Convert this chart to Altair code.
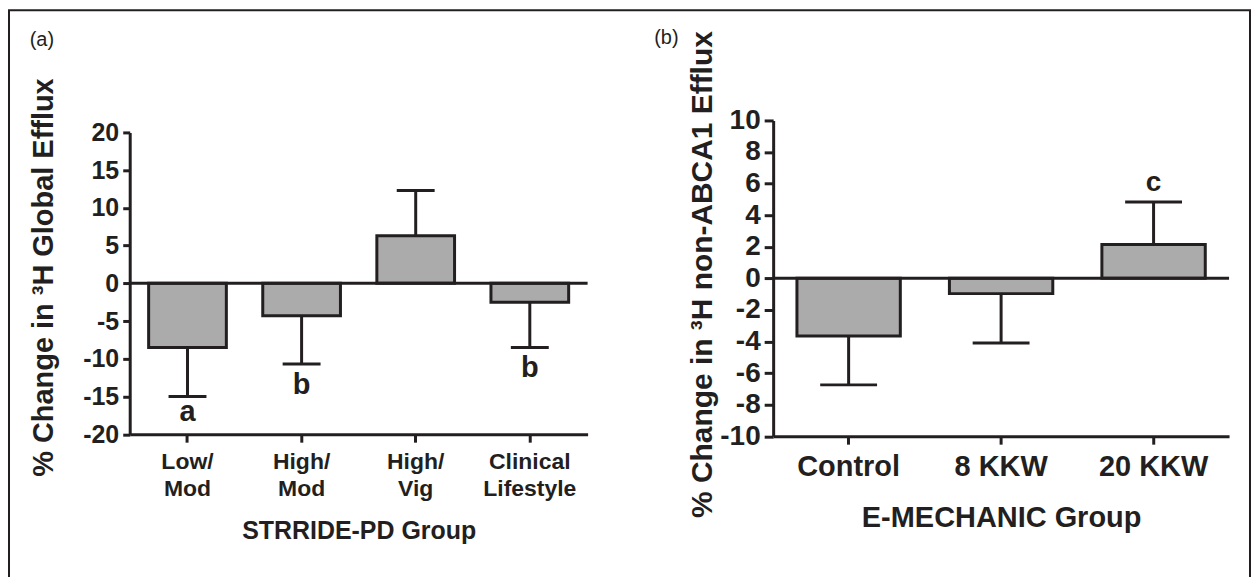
import altair as alt
import pandas as pd

# ---------------- data ----------------
groups_a = ["Low/ Mod", "High/ Mod", "High/ Vig", "Clinical Lifestyle"]
means_a = [-8.5, -4.3, 6.3, -2.5]
err_a = [-15.0, -10.7, 12.3, -8.5]
letters_a = ["a", "b", "", "b"]
letter_pos_a = [-18.3, -14.7, 0.0, -12.4]
ticks_a = [-20, -15, -10, -5, 0, 5, 10, 15, 20]

groups_b = ["Control", "8 KKW", "20 KKW"]
means_b = [-3.65, -0.97, 2.14]
err_b = [-6.75, -4.1, 4.84]
letters_b = ["", "", "c"]
letter_pos_b = [0.0, 0.0, 5.5]
ticks_b = [-10, -8, -6, -4, -2, 0, 2, 4, 6, 8, 10]

FONT = "Liberation Sans"
INK = "#231f20"
FILL = "#ababab"

df_a = pd.DataFrame({"group": groups_a, "mean": means_a, "err": err_a,
                     "letter": letters_a, "ly": letter_pos_a})
df_b = pd.DataFrame({"group": groups_b, "mean": means_b, "err": err_b,
                     "letter": letters_b, "ly": letter_pos_b})
one = pd.DataFrame({"zero": [0]})


def make_panel(df, groups, ydomain, yrange, width, height, pin, pout,
               cap, xaxis, yaxis, letter_size, tag, tag_x, tag_y, border=False):
    xscale = alt.Scale(paddingInner=pin, paddingOuter=pout)
    yscale = alt.Scale(domain=ydomain, range=yrange, nice=False, zero=False)

    def X():
        return alt.X("group:N", sort=groups, scale=xscale, axis=xaxis)

    def Y(field):
        return alt.Y(field, scale=yscale, axis=yaxis)

    bars = alt.Chart(df).mark_bar(fill=FILL, stroke=INK, strokeWidth=3).encode(
        x=X(), y=Y("mean:Q"))
    stems = alt.Chart(df).mark_rule(color=INK, strokeWidth=3).encode(
        x=X(), y=Y("mean:Q"), y2=alt.Y2("err"))
    caps = alt.Chart(df).mark_tick(color=INK, orient="horizontal", size=cap,
                                   thickness=3, opacity=1).encode(
        x=X(), y=Y("err:Q"))
    zero = alt.Chart(one).mark_rule(color=INK, strokeWidth=3).encode(y=Y("zero:Q"))
    lets = alt.Chart(df[df["letter"] != ""]).mark_text(
        font=FONT, fontSize=letter_size, fontWeight="bold", color=INK,
        baseline="alphabetic", align="center").encode(
        x=X(), y=Y("ly:Q"), text="letter:N")
    tagm = alt.Chart(one).mark_text(
        font=FONT, fontSize=20, color=INK, align="center", baseline="middle").encode(
        x=alt.value(tag_x), y=alt.value(tag_y), text=alt.value(tag))
    layers = [bars, stems, caps, zero, lets, tagm]
    if border:
        frame = alt.Chart(one).mark_rect(fill=None, stroke=INK, strokeWidth=2).encode(
            x=alt.value(-121), x2=alt.value(1123),
            y=alt.value(-110.5), y2=alt.value(480))
        layers.append(frame)
    return alt.layer(*layers).properties(width=width, height=height)


axis_common = dict(domainWidth=3, domainColor=INK, tickWidth=3, tickColor=INK,
                   grid=False, labelFont=FONT, labelFontWeight="bold",
                   labelColor=INK, titleFont=FONT, titleFontWeight="bold",
                   titleColor=INK, labelOverlap=False, labelFlush=False)

yaxis_a = alt.Axis(values=ticks_a, title="% Change in ³H Global Efflux",
                   labelExpr="'' + datum.value",
                   titleFontSize=29, titleAngle=270, titleX=-77, titleY=157,
                   titleBaseline="alphabetic", titleAlign="center",
                   labelFontSize=25, labelPadding=4, tickSize=7, **axis_common)
xaxis_a = alt.Axis(title="STRRIDE-PD Group", titleFontSize=25, titleY=105,
                   titleBaseline="alphabetic", titleAlign="center",
                   labelAngle=0, labelExpr="split(datum.label, ' ')",
                   labelFontSize=23, labelLineHeight=27, labelBaseline="top",
                   labelPadding=8, tickSize=8, **axis_common)

yaxis_b = alt.Axis(values=ticks_b, title="% Change in ³H non-ABCA1 Efflux",
                   labelExpr="'' + datum.value",
                   titleFontSize=30, titleAngle=270, titleX=-62, titleY=154,
                   titleBaseline="alphabetic", titleAlign="center",
                   labelFontSize=28, labelPadding=4, tickSize=9, **axis_common)
xaxis_b = alt.Axis(title="E-MECHANIC Group", titleFontSize=29, titleY=91,
                   titleBaseline="alphabetic", titleAlign="center",
                   labelAngle=0, labelFontSize=29, labelBaseline="top",
                   labelPadding=8, tickSize=8, **axis_common)

panel_a = make_panel(df_a, groups_a, [-20, 20], [314.5, 12], 459, 314.5,
                     0.319, 0.166, 38, xaxis_a, yaxis_a, 29, "(a)", -88, -81,
                     border=True)
panel_b = make_panel(df_b, groups_b, [-10, 10], [316.5, 0], 457, 316.5,
                     0.322, 0.156, 57, xaxis_b, yaxis_b, 28, "(b)", -107, -82.5)

chart = alt.hconcat(panel_a, panel_b, spacing=186, bounds="flush").properties(
    padding=0
).configure_view(stroke=None)

chart.save("out.html", embed_options={"renderer": "svg", "actions": False})
